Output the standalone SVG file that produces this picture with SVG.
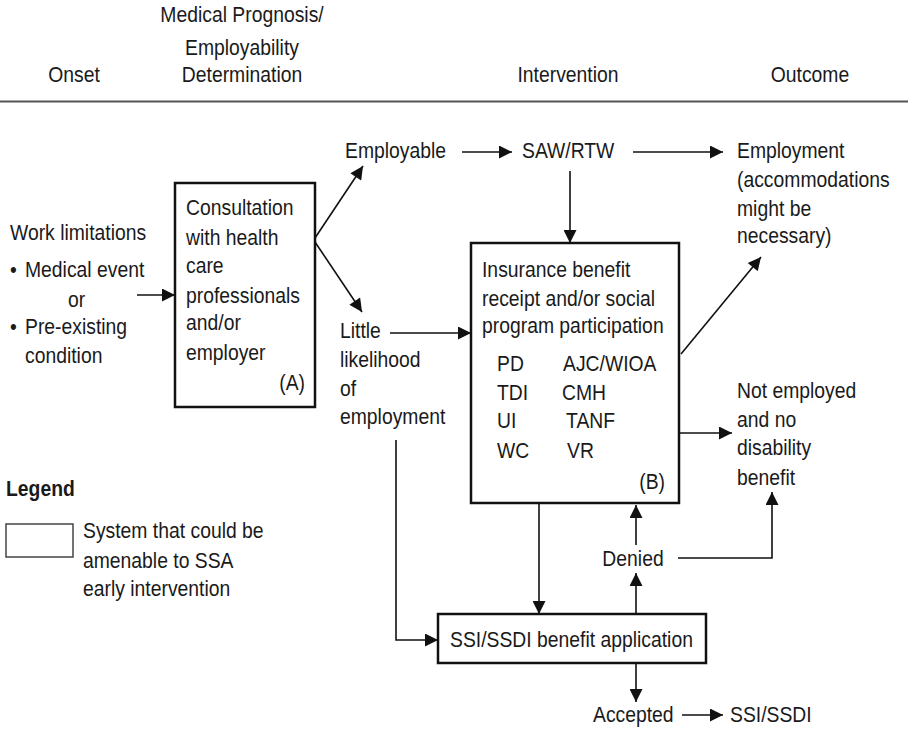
<svg xmlns="http://www.w3.org/2000/svg" width="908" height="729" viewBox="0 0 908 729">
<style>
text{font-family:"Liberation Sans",Arial,sans-serif;font-size:22.5px;fill:#1a1a1a}
.c{text-anchor:middle}
.r{text-anchor:end}
.box{fill:#fff;stroke:#111;stroke-width:2.5}
.ln{fill:none;stroke:#111;stroke-width:1.6}
</style>
<defs>
<marker id="arr" viewBox="0 0 10 10" refX="10" refY="5" markerWidth="15" markerHeight="13" markerUnits="userSpaceOnUse" orient="auto">
<path d="M0,0 L10,5 L0,10 z" fill="#111"/>
</marker>
</defs>
<rect width="908" height="729" fill="#fff"/>
<g id="header">
<text class="c" transform="matrix(.86 0 0 1 74 0)" y="82">Onset</text>
<text class="c" transform="matrix(.86 0 0 1 242 0)" y="22">Medical Prognosis/</text>
<text class="c" transform="matrix(.86 0 0 1 242 0)" y="55">Employability</text>
<text class="c" transform="matrix(.86 0 0 1 242 0)" y="82">Determination</text>
<text class="c" transform="matrix(.86 0 0 1 568 0)" y="82">Intervention</text>
<text class="c" transform="matrix(.86 0 0 1 810 0)" y="82">Outcome</text>
<line x1="0" y1="101.5" x2="908" y2="101.5" stroke="#555" stroke-width="2"/>
</g>
<g id="onset">
<text transform="matrix(.86 0 0 1 10 0)" y="240">Work limitations</text>
<text transform="matrix(.86 0 0 1 10 0)" y="277">•</text><text transform="matrix(.86 0 0 1 25 0)" y="277">Medical event</text>
<text transform="matrix(.86 0 0 1 68 0)" y="307">or</text>
<text transform="matrix(.86 0 0 1 10 0)" y="334">•</text><text transform="matrix(.86 0 0 1 25 0)" y="334">Pre-existing</text>
<text transform="matrix(.86 0 0 1 25 0)" y="363">condition</text>
</g>
<g id="boxA">
<rect class="box" x="175" y="183" width="140" height="224"/>
<text transform="matrix(.86 0 0 1 186 0)" y="215">Consultation</text>
<text transform="matrix(.86 0 0 1 186 0)" y="245">with  health</text>
<text transform="matrix(.86 0 0 1 186 0)" y="273">care</text>
<text transform="matrix(.86 0 0 1 186 0)" y="303">professionals</text>
<text transform="matrix(.86 0 0 1 186 0)" y="330">and/or</text>
<text transform="matrix(.86 0 0 1 186 0)" y="360">employer</text>
<text class="r" transform="matrix(.86 0 0 1 305 0)" y="390">(A)</text>
</g>
<g id="employable"><text transform="matrix(.86 0 0 1 345 0)" y="158">Employable</text></g>
<g id="little">
<text transform="matrix(.86 0 0 1 340 0)" y="338">Little</text>
<text transform="matrix(.86 0 0 1 340 0)" y="367">likelihood</text>
<text transform="matrix(.86 0 0 1 340 0)" y="396">of</text>
<text transform="matrix(.86 0 0 1 340 0)" y="424">employment</text>
</g>
<g id="saw"><text transform="matrix(.86 0 0 1 522 0)" y="158">SAW/RTW</text></g>
<g id="employment">
<text transform="matrix(.86 0 0 1 737 0)" y="158">Employment</text>
<text transform="matrix(.86 0 0 1 737 0)" y="187">(accommodations</text>
<text transform="matrix(.86 0 0 1 737 0)" y="216">might be</text>
<text transform="matrix(.86 0 0 1 737 0)" y="243">necessary)</text>
</g>
<g id="boxB">
<rect class="box" x="471" y="243" width="208" height="260"/>
<text transform="matrix(.86 0 0 1 482 0)" y="277">Insurance benefit</text>
<text transform="matrix(.86 0 0 1 482 0)" y="306">receipt and/or social</text>
<text transform="matrix(.86 0 0 1 482 0)" y="333">program participation</text>
<text transform="matrix(.86 0 0 1 497 0)" y="371">PD</text><text transform="matrix(.86 0 0 1 563 0)" y="371">AJC/WIOA</text>
<text transform="matrix(.86 0 0 1 497 0)" y="400">TDI</text><text transform="matrix(.86 0 0 1 562 0)" y="400">CMH</text>
<text transform="matrix(.86 0 0 1 497 0)" y="428">UI</text><text transform="matrix(.86 0 0 1 566 0)" y="428">TANF</text>
<text transform="matrix(.86 0 0 1 497 0)" y="458">WC</text><text transform="matrix(.86 0 0 1 567 0)" y="458">VR</text>
<text class="r" transform="matrix(.86 0 0 1 665 0)" y="489">(B)</text>
</g>
<g id="notemployed">
<text transform="matrix(.86 0 0 1 737 0)" y="398">Not employed</text>
<text transform="matrix(.86 0 0 1 737 0)" y="427">and no</text>
<text transform="matrix(.86 0 0 1 737 0)" y="455">disability</text>
<text transform="matrix(.86 0 0 1 737 0)" y="485">benefit</text>
</g>
<g id="ssi">
<rect class="box" x="438" y="614" width="268" height="49"/>
<text transform="matrix(.86 0 0 1 450 0)" y="647">SSI/SSDI  benefit application</text>
</g>
<g id="denied"><text class="c" transform="matrix(.86 0 0 1 633 0)" y="566">Denied</text></g>
<g id="accepted"><text transform="matrix(.86 0 0 1 593 0)" y="722">Accepted</text></g>
<g id="ssissdi"><text transform="matrix(.86 0 0 1 730 0)" y="722">SSI/SSDI</text></g>
<g id="legend">
<text transform="matrix(.86 0 0 1 6 0)" y="496" font-weight="bold">Legend</text>
<rect x="6" y="524" width="67" height="33" fill="#fff" stroke="#444" stroke-width="1.5"/>
<text transform="matrix(.86 0 0 1 83 0)" y="538">System that could be</text>
<text transform="matrix(.86 0 0 1 83 0)" y="568">amenable to SSA</text>
<text transform="matrix(.86 0 0 1 83 0)" y="596">early intervention</text>
</g>
<g id="connectors" class="ln">
<path class="ln" d="M137,295 H175" marker-end="url(#arr)"/>
<path class="ln" d="M315,238 L363,166" marker-end="url(#arr)"/>
<path class="ln" d="M315,242 L362,312" marker-end="url(#arr)"/>
<path class="ln" d="M462,152 H512" marker-end="url(#arr)"/>
<path class="ln" d="M633,152 H723" marker-end="url(#arr)"/>
<path class="ln" d="M570,171 V243" marker-end="url(#arr)"/>
<path class="ln" d="M390,333 H471" marker-end="url(#arr)"/>
<path class="ln" d="M681,354 L761,257" marker-end="url(#arr)"/>
<path class="ln" d="M679,433 H732" marker-end="url(#arr)"/>
<path class="ln" d="M539,503 V614" marker-end="url(#arr)"/>
<path class="ln" d="M396,440 V640 H438" marker-end="url(#arr)"/>
<path class="ln" d="M636,614 V573" marker-end="url(#arr)"/>
<path class="ln" d="M636,545 V505" marker-end="url(#arr)"/>
<path class="ln" d="M678,558 H772 V492" marker-end="url(#arr)"/>
<path class="ln" d="M636,663 V702" marker-end="url(#arr)"/>
<path class="ln" d="M682,715 H723" marker-end="url(#arr)"/>
</g>
</svg>
